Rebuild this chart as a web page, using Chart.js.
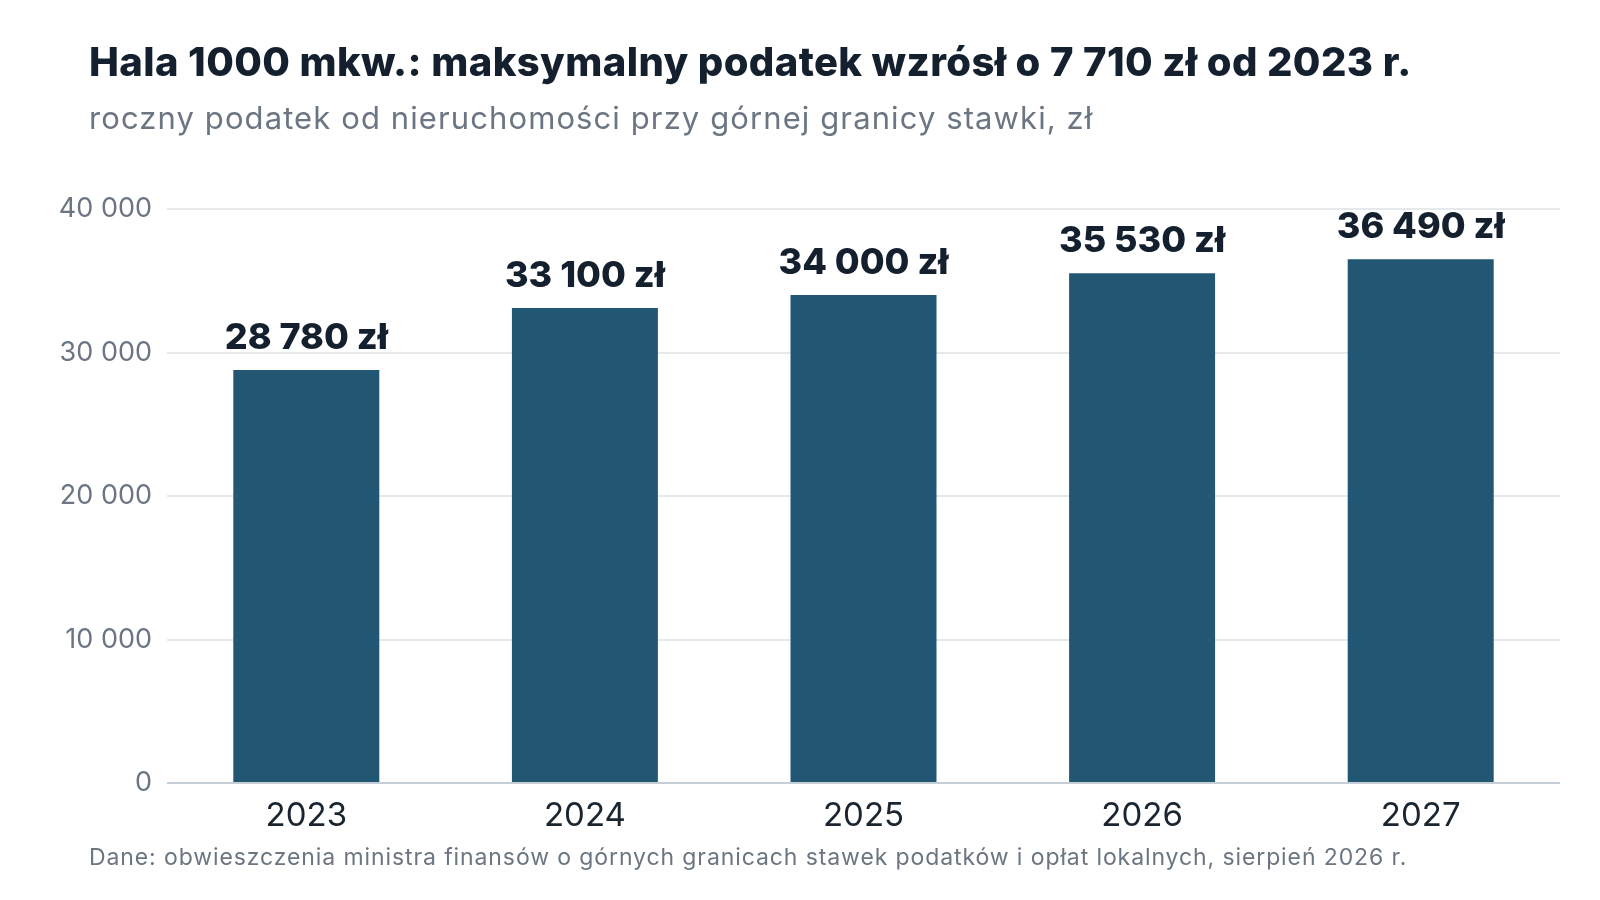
<!DOCTYPE html>
<html>
<head>
<meta charset="utf-8">
<script src="https://cdn.jsdelivr.net/npm/chart.js@4"></script>
<style>
  html, body { margin: 0; padding: 0; background: #fff; }
  body { width: 1600px; height: 900px; position: relative; overflow: hidden; font-family: Inter, sans-serif; }
  .title { position: absolute; left: 89px; top: 37px; font-size: 40px; font-weight: 800; color: #14202e; letter-spacing: 0.4px; white-space: nowrap; }
  .subtitle { position: absolute; left: 89px; top: 99px; font-size: 31px; font-weight: 400; color: #6b7682; letter-spacing: 1.1px; white-space: nowrap; }
  .source { position: absolute; left: 89px; top: 843px; font-size: 23px; color: #6b7682; letter-spacing: 0.9px; white-space: nowrap; }
  #wrap { position: absolute; left: 0; top: 0; width: 1600px; height: 900px; }
</style>
</head>
<body>
<div id="wrap"><canvas id="chart"></canvas></div>
<div class="title">Hala 1000 mkw.: maksymalny podatek wzrósł o 7 710 zł od 2023 r.</div>
<div class="subtitle">roczny podatek od nieruchomości przy górnej granicy stawki, zł</div>
<div class="source">Dane: obwieszczenia ministra finansów o górnych granicach stawek podatków i opłat lokalnych, sierpień 2026 r.</div>
<script>
const years = ['2023', '2024', '2025', '2026', '2027'];
const taxValues = [28780, 33100, 34000, 35530, 36490];
const yTicks = [0, 10000, 20000, 30000, 40000];

function fmt(n) {
    return String(n).replace(/\B(?=(\d{3})+(?!\d))/g, ' ');
}

const barLabels = {
    id: 'barLabels',
    afterDatasetsDraw(chart) {
        const ctx = chart.ctx;
        const meta = chart.getDatasetMeta(0);
        ctx.save();
        ctx.font = '800 36px Inter';
        ctx.fillStyle = '#14202e';
        ctx.textAlign = 'center';
        ctx.textBaseline = 'middle';
        meta.data.forEach((bar, i) => {
            ctx.fillText(fmt(taxValues[i]) + ' zł', bar.x, bar.y - 32);
        });
        ctx.restore();
    }
};

new Chart(document.getElementById('chart'), {
    type: 'bar',
    data: {
        labels: years,
        datasets: [{
            data: taxValues,
            backgroundColor: '#215773',
            categoryPercentage: 1,
            barPercentage: 0.524
        }]
    },
    options: {
        responsive: true,
        maintainAspectRatio: false,
        animation: false,
        layout: { padding: { left: 0, right: 40, top: 209, bottom: 57 } },
        plugins: { legend: { display: false }, tooltip: { enabled: false } },
        scales: {
            x: {
                grid: { display: false },
                border: { display: false },
                ticks: { color: '#1a2530', font: { family: 'Inter', size: 33 }, padding: 5 },
                afterFit(s) { s.height = 60; }
            },
            y: {
                min: 0,
                max: 40000,
                afterBuildTicks(s) { s.ticks = yTicks.map(v => ({ value: v })); },
                grid: {
                    drawTicks: false,
                    color: ctx => ctx.tick && ctx.tick.value === 0 ? '#c5ced6' : '#e6e9ec',
                    lineWidth: 2
                },
                border: { display: false },
                ticks: {
                    color: '#6b7682',
                    font: { family: 'Inter', size: 27 },
                    padding: 15,
                    callback: v => fmt(v)
                },
                afterFit(s) { s.width = 167; }
            }
        }
    },
    plugins: [barLabels]
});
</script>
</body>
</html>
